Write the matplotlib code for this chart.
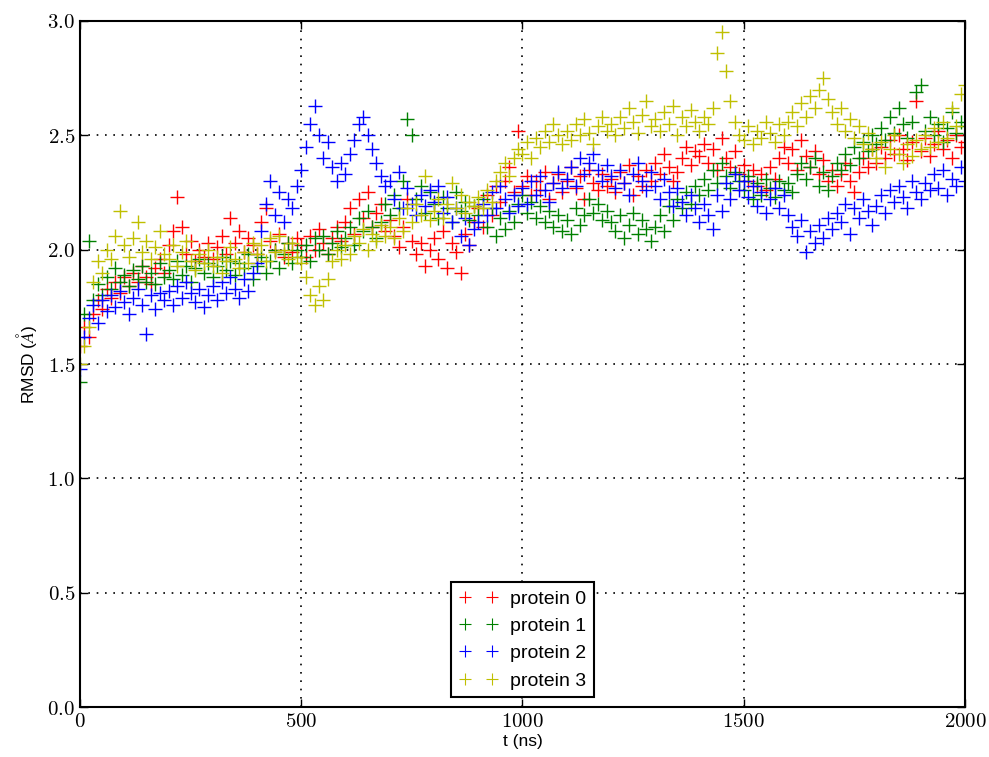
import numpy as np
import matplotlib
matplotlib.use("Agg")
import matplotlib.pyplot as plt

plt.rcParams['mathtext.fontset'] = 'cm'
plt.rcParams['font.family'] = ['Liberation Sans', 'DejaVu Sans']

# time axis (ns), one sample every 10 ns
t = list(range(0, 2001, 10))

protein0 = [
    1.58, 1.66, 1.62, 1.72, 1.78, 1.74, 1.83, 1.79, 1.86, 1.81,
    1.88, 1.84, 1.90, 1.86, 1.93, 1.88, 1.85, 1.92, 1.96, 1.90,
    2.02, 2.08, 2.23, 2.10, 1.98, 2.04, 1.95, 2.00, 1.97, 2.03,
    1.96, 2.01, 2.06, 1.98, 2.14, 2.03, 2.08, 1.99, 2.05, 2.02,
    1.98, 2.12, 2.18, 2.04, 2.00, 2.07, 1.97, 2.03, 1.99, 2.05,
    2.02, 1.97, 2.06, 2.00, 2.09, 2.03, 1.98, 2.05, 2.10, 2.04,
    2.12, 2.18, 2.07, 2.22, 2.14, 2.25, 2.10, 2.16, 2.20, 2.08,
    2.13, 2.06, 2.01, 2.10, 2.22, 2.04, 1.98, 2.03, 1.93, 2.00,
    2.05, 1.96, 2.08, 1.92, 2.03, 1.99, 1.90, 2.07, 2.02, 2.12,
    2.18, 2.10, 2.24, 2.15, 2.28, 2.21, 2.30, 2.36, 2.25, 2.52,
    2.28, 2.32, 2.24, 2.30, 2.26, 2.34, 2.22, 2.29, 2.33, 2.25,
    2.30, 2.36, 2.27, 2.32, 2.22, 2.35, 2.29, 2.26, 2.33, 2.28,
    2.31, 2.25, 2.34, 2.29, 2.37, 2.24, 2.32, 2.28, 2.35, 2.30,
    2.38, 2.33, 2.42, 2.36, 2.30, 2.34, 2.40, 2.45, 2.37, 2.43,
    2.41, 2.46, 2.38, 2.44, 2.35, 2.49, 2.40, 2.36, 2.43, 2.33,
    2.37, 2.30, 2.35, 2.28, 2.33, 2.26, 2.36, 2.31, 2.40, 2.45,
    2.38, 2.44, 2.35, 2.48, 2.41, 2.36, 2.43, 2.33, 2.39, 2.30,
    2.35, 2.28, 2.33, 2.38, 2.30, 2.25, 2.34, 2.40, 2.36, 2.44,
    2.38, 2.45, 2.40, 2.48, 2.42, 2.50, 2.44, 2.39, 2.47, 2.65,
    2.43, 2.49, 2.41, 2.46, 2.52, 2.44, 2.48, 2.40, 2.50, 2.45,
    2.47,
]

protein1 = [
    1.42, 1.72, 2.04, 1.78, 1.85, 1.80, 1.88, 1.83, 1.92, 1.86,
    1.89, 1.84, 1.91, 1.87, 1.93, 1.86, 1.90, 1.85, 1.94, 1.88,
    1.91, 1.87, 1.95, 1.89, 1.93, 1.86, 1.92, 1.96, 1.90, 1.94,
    1.88, 1.93, 1.97, 1.91, 1.95, 1.89, 1.94, 1.92, 1.98, 1.87,
    1.93, 1.97, 1.90, 1.95, 2.00, 1.92, 1.98, 2.03, 1.94, 2.00,
    1.97, 2.02, 1.95, 2.05, 2.00, 2.06, 1.98, 2.03, 2.08, 2.01,
    2.05, 2.10, 2.02, 2.14, 2.08, 2.17, 2.10, 2.05, 2.12, 2.20,
    2.15, 2.24, 2.18, 2.30, 2.57, 2.50, 2.22, 2.28, 2.16, 2.25,
    2.20, 2.14, 2.23, 2.18, 2.12, 2.25, 2.17, 2.21, 2.13, 2.19,
    2.15, 2.22, 2.10, 2.18, 2.06, 2.14, 2.09, 2.17, 2.12, 2.20,
    2.24, 2.16, 2.21, 2.14, 2.19, 2.12, 2.17, 2.10, 2.15, 2.08,
    2.13, 2.07, 2.18, 2.11, 2.15, 2.22, 2.16, 2.20, 2.13, 2.17,
    2.12, 2.08, 2.15, 2.05, 2.11, 2.16, 2.07, 2.13, 2.09, 2.04,
    2.10, 2.15, 2.08, 2.19, 2.13, 2.22, 2.18, 2.25, 2.20, 2.28,
    2.24, 2.31, 2.26, 2.35, 2.29, 2.38, 2.32, 2.27, 2.34, 2.30,
    2.26, 2.32, 2.22, 2.29, 2.24, 2.31, 2.27, 2.23, 2.30, 2.26,
    2.29, 2.25, 2.33, 2.38, 2.31, 2.36, 2.40, 2.28, 2.34, 2.26,
    2.32, 2.38, 2.35, 2.42, 2.37, 2.45, 2.40, 2.47, 2.43, 2.50,
    2.46, 2.53, 2.48, 2.58, 2.51, 2.62, 2.55, 2.49, 2.56, 2.69,
    2.72, 2.52, 2.58, 2.50, 2.55, 2.47, 2.53, 2.60, 2.51, 2.56,
    2.54,
]

protein2 = [
    1.48, 1.62, 1.70, 1.76, 1.68, 1.78, 1.73, 1.80, 1.75, 1.82,
    1.77, 1.72, 1.79, 1.83, 1.76, 1.63, 1.80, 1.74, 1.81, 1.78,
    1.82, 1.76, 1.84, 1.79, 1.86, 1.81, 1.77, 1.83, 1.75, 1.80,
    1.84, 1.78, 1.86, 1.81, 1.88, 1.83, 1.79, 1.87, 1.82, 1.90,
    1.94, 2.08, 2.20, 2.30, 2.15, 2.25, 2.12, 2.22, 2.18, 2.28,
    2.35, 2.45, 2.55, 2.63, 2.50, 2.40, 2.47, 2.36, 2.30, 2.38,
    2.33, 2.42, 2.48, 2.55, 2.58, 2.50, 2.44, 2.38, 2.32, 2.28,
    2.30, 2.22, 2.34, 2.18, 2.27, 2.20, 2.15, 2.24, 2.19, 2.26,
    2.21, 2.28, 2.16, 2.23, 2.12, 2.18, 2.06, 2.14, 2.02, 2.09,
    2.12, 2.20, 2.15, 2.25, 2.18, 2.28, 2.22, 2.16, 2.24, 2.19,
    2.27, 2.20, 2.30, 2.24, 2.32, 2.26, 2.21, 2.29, 2.34, 2.27,
    2.31, 2.36, 2.28, 2.40, 2.33, 2.38, 2.42, 2.35, 2.30, 2.37,
    2.32, 2.27, 2.35, 2.29, 2.24, 2.33, 2.38, 2.30, 2.26, 2.34,
    2.28, 2.22, 2.31, 2.25, 2.19, 2.27, 2.21, 2.15, 2.24, 2.18,
    2.12, 2.20, 2.15, 2.09, 2.24, 2.17, 2.29, 2.22, 2.33, 2.26,
    2.30, 2.23, 2.28, 2.19, 2.25, 2.16, 2.22, 2.27, 2.18, 2.24,
    2.15, 2.10, 2.06, 2.13, 1.99, 2.08, 2.03, 2.11, 2.05, 2.14,
    2.09, 2.16, 2.12, 2.20, 2.07, 2.18, 2.14, 2.22, 2.17, 2.11,
    2.19, 2.24, 2.16, 2.26, 2.21, 2.28, 2.23, 2.18, 2.30, 2.25,
    2.22, 2.29, 2.26, 2.33, 2.27, 2.35, 2.24, 2.31, 2.28, 2.36,
    2.30,
]

protein3 = [
    1.50, 1.58, 1.66, 1.86, 1.95, 1.90, 2.00, 1.96, 2.06, 2.17,
    2.02, 1.97, 2.05, 2.12, 1.99, 2.04, 1.96, 2.01, 2.08, 1.98,
    1.96, 2.02, 1.93, 1.99, 2.04, 1.95, 1.91, 1.98, 1.94, 2.00,
    1.93, 1.97, 1.90, 1.95, 2.01, 1.96, 1.92, 1.99, 1.94, 2.03,
    1.98, 2.02, 1.95, 2.05, 1.99, 2.06, 2.00, 1.96, 2.03, 1.97,
    1.94, 1.88, 1.80, 1.76, 1.84, 1.78, 1.87, 1.95, 2.00, 1.96,
    2.02, 1.98, 2.06, 2.03, 2.09, 2.00, 2.07, 2.04, 2.11, 2.06,
    2.10, 2.05, 2.14, 2.08, 2.18, 2.12, 2.20, 2.15, 2.32, 2.13,
    2.17, 2.22, 2.14, 2.20, 2.29, 2.18, 2.24, 2.16, 2.21, 2.19,
    2.23, 2.18, 2.26, 2.21, 2.30, 2.34, 2.38, 2.32, 2.40, 2.44,
    2.42, 2.47, 2.40, 2.49, 2.45, 2.52, 2.47, 2.55, 2.50, 2.46,
    2.52, 2.48, 2.55, 2.50, 2.57, 2.51, 2.46, 2.54, 2.58, 2.52,
    2.55, 2.50, 2.58, 2.53, 2.62, 2.56, 2.51, 2.59, 2.65, 2.54,
    2.57, 2.52, 2.60, 2.55, 2.63, 2.50, 2.58, 2.54, 2.61, 2.56,
    2.52, 2.58, 2.55, 2.62, 2.86, 2.95, 2.78, 2.65, 2.56, 2.50,
    2.48, 2.54, 2.46, 2.52, 2.49, 2.56, 2.51, 2.47, 2.55, 2.50,
    2.56, 2.60, 2.54, 2.64, 2.58, 2.67, 2.62, 2.70, 2.75, 2.66,
    2.60, 2.55, 2.62, 2.52, 2.57, 2.49, 2.54, 2.46, 2.51, 2.44,
    2.40, 2.47, 2.36, 2.44, 2.50, 2.42, 2.38, 2.46, 2.41, 2.48,
    2.44, 2.50, 2.45, 2.53, 2.47, 2.56, 2.49, 2.62, 2.54, 2.68,
    2.72,
]

series = [protein0, protein1, protein2, protein3]
labels = ["protein 0", "protein 1", "protein 2", "protein 3"]
colors = ["#ff0000", "#008000", "#0000ff", "#bfbf00"]

xticks = [0, 500, 1000, 1500, 2000]
yticks = [0.0, 0.5, 1.0, 1.5, 2.0, 2.5, 3.0]

fig = plt.figure(figsize=(9.89, 7.57), dpi=100)
ax = fig.add_axes([0.0809, 0.066, 0.8948, 0.9063])

for vals, lab, col in zip(series, labels, colors):
    ax.plot(t, vals, linestyle='none', marker='+', markersize=10,
            markeredgewidth=1.0, color=col, label=lab)

ax.set_xlim(0, 2000)
ax.set_ylim(0, 3.0)
ax.set_xticks(xticks)
ax.set_xticklabels([r'$%d$' % v for v in xticks], fontsize=15)
ax.set_yticks(yticks)
ax.set_yticklabels([r'$%.1f$' % v for v in yticks], fontsize=15)
ax.tick_params(direction='in', top=True, right=True, length=6, width=1)
ax.grid(True, color='black', linestyle=(0, (1, 4)), linewidth=1.2)
for sp in ax.spines.values():
    sp.set_linewidth(1.5)

ax.set_xlabel('t (ns)', fontsize=12.5, labelpad=2)
ax.set_ylabel(r'RMSD ($\AA$)', fontsize=12.5, labelpad=6)

leg = ax.legend(loc='lower center', numpoints=2, fontsize=14,
                fancybox=False, framealpha=1.0, edgecolor='black',
                handlelength=2.0, borderaxespad=0.5, labelspacing=0.5,
                markerscale=0.9, handletextpad=0.6)
leg.get_frame().set_linewidth(1.5)
for h in leg.legend_handles:
    h.set_markeredgewidth(0.8)

fig.savefig('out.png', dpi=100)
